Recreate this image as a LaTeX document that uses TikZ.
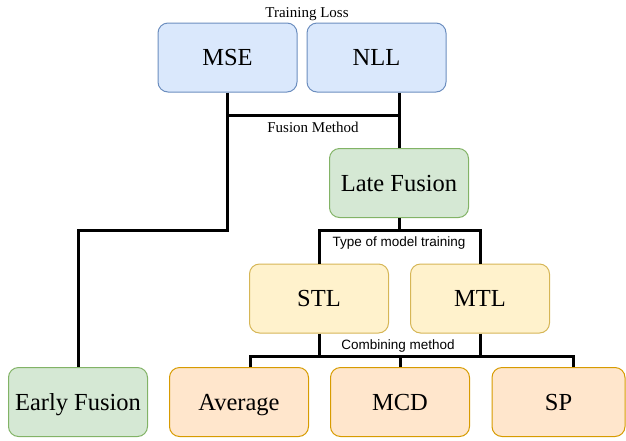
\documentclass[tikz,border=0pt]{standalone}
\usepackage{fontspec}
\setmainfont{Liberation Serif}
\newfontfamily\labelsans{Liberation Sans}
\definecolor{bluefill}{HTML}{DAE8FC}\definecolor{bluedraw}{HTML}{6C8EBF}
\definecolor{greenfill}{HTML}{D5E8D4}\definecolor{greendraw}{HTML}{82B366}
\definecolor{yellowfill}{HTML}{FFF2CC}\definecolor{yellowdraw}{HTML}{D6B656}
\definecolor{orangefill}{HTML}{FFE6CC}\definecolor{orangedraw}{HTML}{D79B00}
\tikzset{
  box/.style={rectangle, rounded corners=10pt, minimum width=139pt, minimum height=69pt,
    inner sep=0pt, line width=1pt, text height=16.2pt, text depth=0pt,
    font=\fontsize{24.5}{29}\selectfont},
  bluebox/.style={box, fill=bluefill, draw=bluedraw},
  greenbox/.style={box, fill=greenfill, draw=greendraw},
  yellowbox/.style={box, fill=yellowfill, draw=yellowdraw},
  orangebox/.style={box, fill=orangefill, draw=orangedraw},
  conn/.style={line width=3pt, black, line join=miter},
  seriflabel/.style={inner sep=0pt, text height=10pt, text depth=0pt, font=\fontsize{15}{18}\selectfont},
  sanslabel/.style={inner sep=0pt, text height=9.7pt, text depth=0pt, font=\labelsans\fontsize{13.5}{16}\selectfont},
}
\begin{document}
\begin{tikzpicture}[x=1pt,y=-1pt]
\useasboundingbox (0,0) rectangle (626,440);
% boxes
\node[bluebox] (mse) at (227.5,57.5) {MSE};
\node[bluebox] (nll) at (376.5,57.5) {NLL};
\node[greenbox] (late) at (399,183) {Late Fusion};
\node[yellowbox] (stl) at (319,298.5) {STL};
\node[yellowbox] (mtl) at (480,298.5) {MTL};
\node[greenbox] (early) at (78,402) {Early Fusion};
\node[orangebox] (avg) at (239,402) {Average};
\node[orangebox] (mcd) at (400,402) {MCD};
\node[orangebox, minimum width=133pt] (sp) at (558.5,402) {SP};
% labels
\node[seriflabel] (tl) at (307,12) {Training Loss};
\node[seriflabel] (fm) at (313,127.5) {Fusion Method};
\node[sanslabel] (tmt) at (399,242) {Type of model training};
\node[sanslabel] (cm) at (398,345) {Combining method};
% junction coordinates
\coordinate (j1) at (0,115);
\coordinate (j2) at (0,230);
\coordinate (j3) at (0,230.5);
\coordinate (j4) at (0,356);
\coordinate (avgdrop) at (250,356);
\coordinate (spdrop) at (573,356);
% connectors
\draw[conn] (mse.south) -- (mse.south |- j2) -| (early.north);
\draw[conn] (late.north |- nll.south) -- (late.north);
\draw[conn] (mse.south |- j1) -- (late.north |- j1);
\draw[conn] (late.south) -- (late.south |- j3);
\draw[conn] (stl.north) |- (mtl.north |- j3) -- (mtl.north);
\draw[conn] (stl.south) -- (stl.south |- j4);
\draw[conn] (mtl.south) -- (mtl.south |- j4);
\draw[conn] (avg.north -| avgdrop) |- (spdrop) -- (sp.north -| spdrop);
\draw[conn] (mcd.north |- j4) -- (mcd.north);
\end{tikzpicture}
\end{document}
